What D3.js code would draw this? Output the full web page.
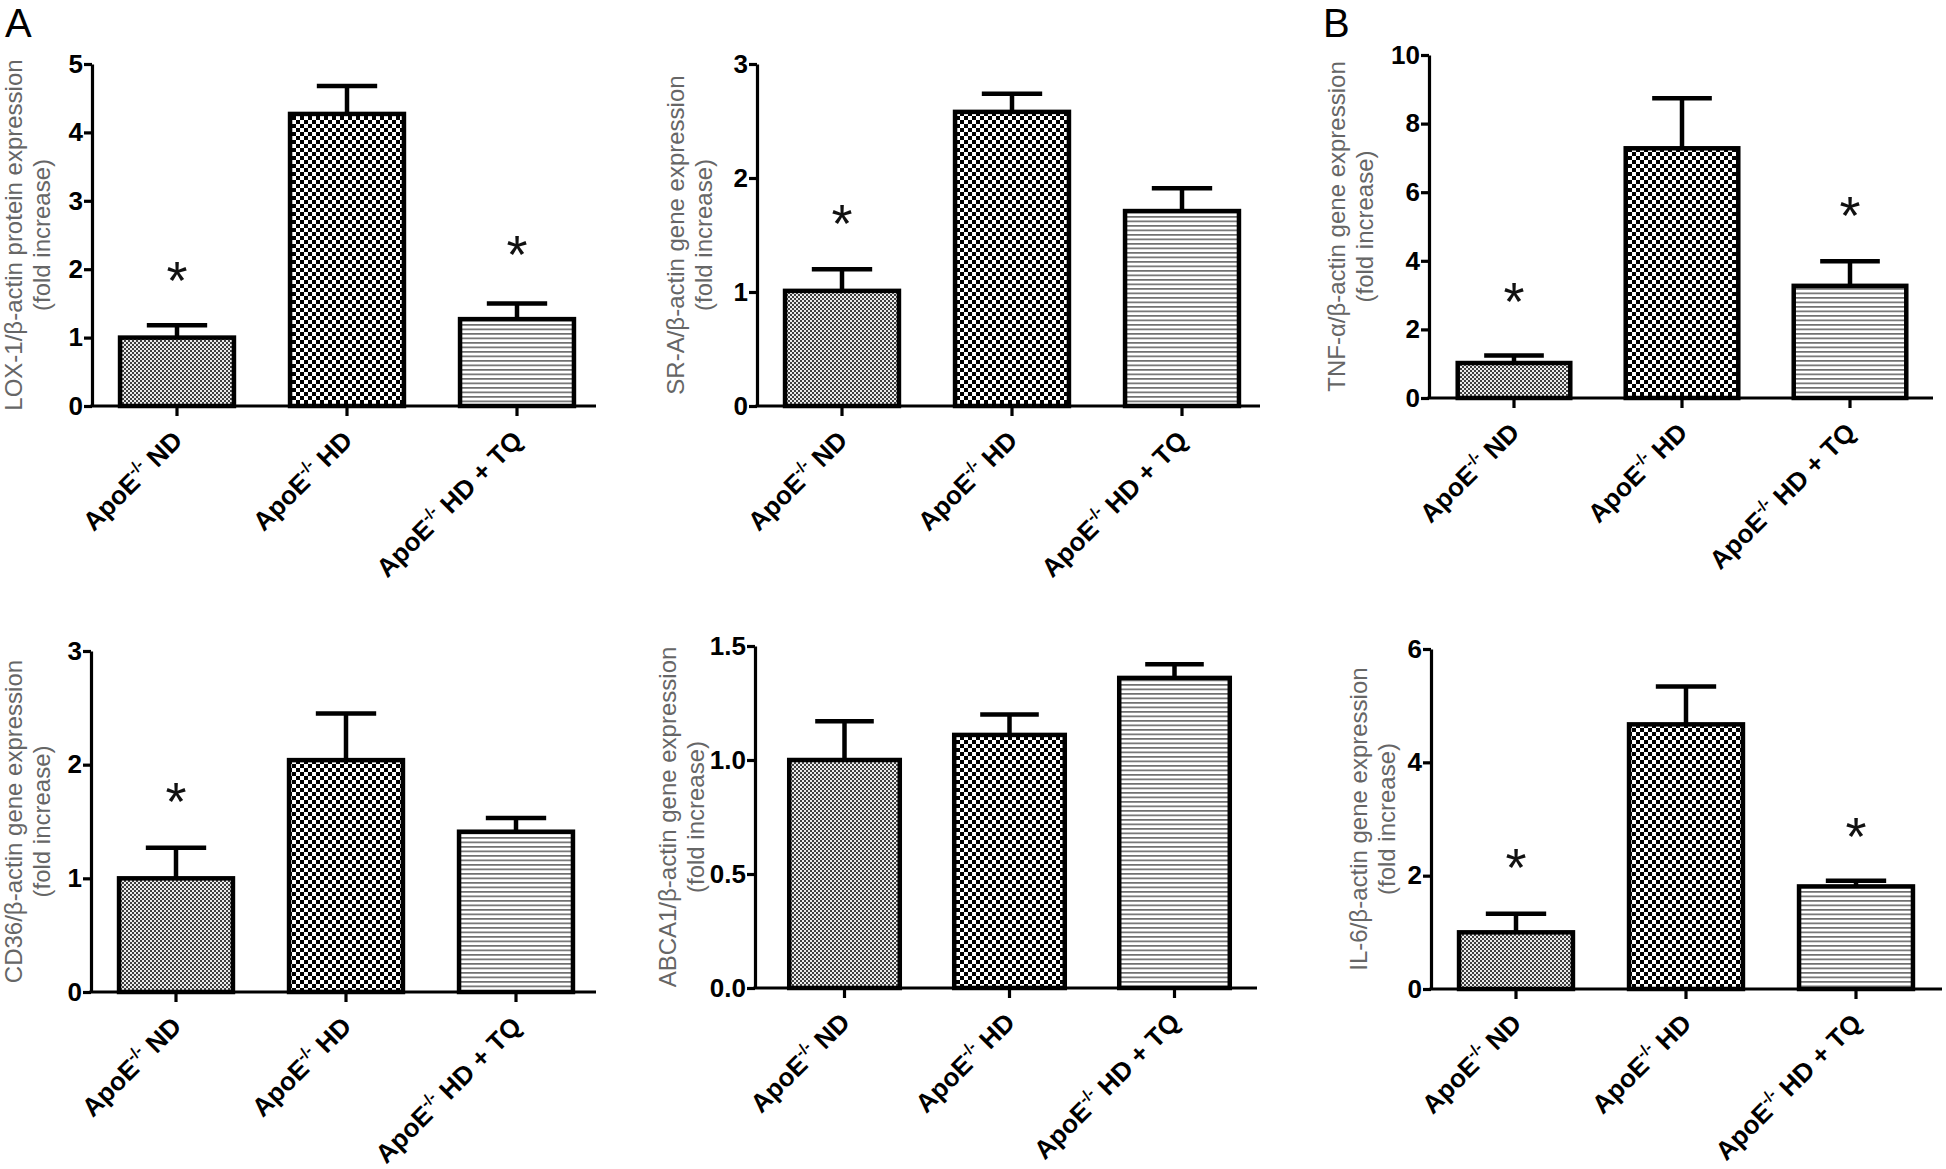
<!DOCTYPE html>
<html><head><meta charset="utf-8">
<script src="https://cdn.jsdelivr.net/npm/d3@7"></script>
<style>body{margin:0;background:#fff} svg{display:block}</style>
</head><body>
<svg id="c" width="1946" height="1169"></svg>
<script>
// ---------- data ----------
const categories = ["ND", "HD", "HD + TQ"];

const lox1Mean = [1.00, 4.27, 1.27];
const lox1Sem  = [0.18, 0.41, 0.23];
const lox1Star = [2.00, null, 2.38];

const srAMean = [1.01, 2.58, 1.71];
const srASem  = [0.19, 0.16, 0.20];
const srAStar = [1.70, null, null];

const tnfMean = [1.02, 7.28, 3.27];
const tnfSem  = [0.22, 1.46, 0.72];
const tnfStar = [3.14, null, 5.66];

const cd36Mean = [1.00, 2.04, 1.41];
const cd36Sem  = [0.27, 0.41, 0.12];
const cd36Star = [1.78, null, null];

const abca1Mean = [1.00, 1.11, 1.36];
const abca1Sem  = [0.17, 0.09, 0.06];
const abca1Star = [null, null, null];

const il6Mean = [1.00, 4.67, 1.81];
const il6Sem  = [0.33, 0.67, 0.10];
const il6Star = [2.34, null, 2.90];

const lox1Ticks = [0, 1, 2, 3, 4, 5];
const srATicks = [0, 1, 2, 3];
const tnfTicks = [0, 2, 4, 6, 8, 10];
const cd36Ticks = [0, 1, 2, 3];
const abca1Ticks = [0, 0.5, 1.0, 1.5];
const il6Ticks = [0, 2, 4, 6];

const lox1Label = ["LOX-1/β-actin protein expression", "(fold increase)"];
const srALabel = ["SR-A/β-actin gene expression", "(fold increase)"];
const tnfLabel = ["TNF-α/β-actin gene expression", "(fold increase)"];
const cd36Label = ["CD36/β-actin gene expression", "(fold increase)"];
const abca1Label = ["ABCA1/β-actin gene expression", "(fold increase)"];
const il6Label = ["IL-6/β-actin gene expression", "(fold increase)"];

// ---------- layout ----------
const FONT = "'Liberation Sans', Arial, Helvetica, sans-serif";
const panels = [
  {mean: lox1Mean, sem: lox1Sem, star: lox1Star, ticks: lox1Ticks, label: lox1Label, fmt: d3.format("d"),
   x0: 92, y0: 406, yTop: 64, max: 5, bandStart: 92, step: 170, axisEnd: 596, lab: 70},
  {mean: srAMean, sem: srASem, star: srAStar, ticks: srATicks, label: srALabel, fmt: d3.format("d"),
   x0: 757, y0: 406, yTop: 64, max: 3, bandStart: 757, step: 170, axisEnd: 1260, lab: 73},
  {mean: tnfMean, sem: tnfSem, star: tnfStar, ticks: tnfTicks, label: tnfLabel, fmt: d3.format("d"),
   x0: 1429, y0: 398, yTop: 55, max: 10, bandStart: 1430, step: 168, axisEnd: 1933, lab: 84},
  {mean: cd36Mean, sem: cd36Sem, star: cd36Star, ticks: cd36Ticks, label: cd36Label, fmt: d3.format("d"),
   x0: 91, y0: 992, yTop: 651, max: 3, bandStart: 91, step: 170, axisEnd: 596, lab: 69},
  {mean: abca1Mean, sem: abca1Sem, star: abca1Star, ticks: abca1Ticks, label: abca1Label, fmt: d3.format(".1f"),
   x0: 755, y0: 988, yTop: 646, max: 1.5, bandStart: 762, step: 165, axisEnd: 1257, lab: 79},
  {mean: il6Mean, sem: il6Sem, star: il6Star, ticks: il6Ticks, label: il6Label, fmt: d3.format("d"),
   x0: 1431, y0: 989, yTop: 649, max: 6, bandStart: 1431, step: 170, axisEnd: 1942, lab: 64}
];

const svg = d3.select("#c");
const defs = svg.append("defs");

// fine grey dither (ND)
const p1 = defs.append("pattern").attr("id", "pND").attr("patternUnits", "userSpaceOnUse")
  .attr("width", 4).attr("height", 4);
p1.append("rect").attr("width", 4).attr("height", 4).attr("fill", "#ececec");
p1.append("rect").attr("x", 0).attr("y", 0).attr("width", 2).attr("height", 2).attr("fill", "#404040");
p1.append("rect").attr("x", 2).attr("y", 2).attr("width", 2).attr("height", 2).attr("fill", "#404040");
// coarse checker (HD)
const p2 = defs.append("pattern").attr("id", "pHD").attr("patternUnits", "userSpaceOnUse")
  .attr("width", 8).attr("height", 8);
p2.append("rect").attr("width", 8).attr("height", 8).attr("fill", "#fff");
p2.append("rect").attr("x", 0).attr("y", 0).attr("width", 4).attr("height", 4).attr("fill", "#000");
p2.append("rect").attr("x", 4).attr("y", 4).attr("width", 4).attr("height", 4).attr("fill", "#000");
// horizontal lines (HD+TQ)
const p3 = defs.append("pattern").attr("id", "pTQ").attr("patternUnits", "userSpaceOnUse")
  .attr("width", 8).attr("height", 4.5);
p3.append("rect").attr("width", 8).attr("height", 4.5).attr("fill", "#fff");
p3.append("rect").attr("x", 0).attr("y", 0).attr("width", 8).attr("height", 1.7).attr("fill", "#707070");
const fills = ["url(#pND)", "url(#pHD)", "url(#pTQ)"];

panels.forEach(p => {
  const g = svg.append("g");
  const y = d3.scaleLinear().domain([0, p.max]).range([p.y0, p.yTop]);
  const x = d3.scaleBand().domain(categories)
    .range([p.bandStart, p.bandStart + 3 * p.step]).paddingInner(0.33).paddingOuter(0.165);
  const bw = x.bandwidth();
  const cx = c => x(c) + bw / 2;

  // bars
  g.selectAll("rect.bar").data(categories).join("rect")
    .attr("x", c => x(c)).attr("width", bw)
    .attr("y", (c, i) => y(p.mean[i])).attr("height", (c, i) => p.y0 - y(p.mean[i]))
    .attr("fill", (c, i) => fills[i]).attr("stroke", "#000").attr("stroke-width", 4.5);

  // error bars (upper)
  const capW = bw * 0.53;
  g.selectAll("line.err").data(categories).join("line")
    .attr("x1", cx).attr("x2", cx)
    .attr("y1", (c, i) => y(p.mean[i])).attr("y2", (c, i) => y(p.mean[i] + p.sem[i]))
    .attr("stroke", "#000").attr("stroke-width", 4.5);
  g.selectAll("line.cap").data(categories).join("line")
    .attr("x1", c => cx(c) - capW / 2).attr("x2", c => cx(c) + capW / 2)
    .attr("y1", (c, i) => y(p.mean[i] + p.sem[i])).attr("y2", (c, i) => y(p.mean[i] + p.sem[i]))
    .attr("stroke", "#000").attr("stroke-width", 4.5);

  // stars
  const starData = categories.map((c, i) => ({c, v: p.star[i]})).filter(d => d.v !== null);
  g.selectAll("text.star").data(starData).join("text")
    .attr("x", d => cx(d.c)).attr("y", d => y(d.v) + 30)
    .attr("text-anchor", "middle").attr("font-family", FONT).attr("font-size", 54)
    .attr("fill", "#111").text("*");

  // y axis
  const ya = g.append("g").attr("transform", `translate(${p.x0},0)`)
    .call(d3.axisLeft(y).tickValues(p.ticks).tickFormat(p.fmt).tickSize(8).tickSizeOuter(0).tickPadding(1));
  ya.select(".domain").attr("stroke-width", 3.2).attr("stroke", "#000");
  ya.selectAll(".tick line").attr("stroke-width", 3.2).attr("stroke", "#000");
  ya.selectAll(".tick text").attr("font-family", FONT).attr("font-size", 26)
    .attr("font-weight", "bold").attr("fill", "#000");

  // x axis
  const xa = g.append("g").attr("transform", `translate(0,${p.y0})`)
    .call(d3.axisBottom(x).tickSize(10).tickSizeOuter(0).tickFormat(""));
  xa.select(".domain").remove();
  xa.selectAll(".tick line").attr("stroke-width", 3.2).attr("stroke", "#000");
  g.append("line").attr("x1", p.x0 - 1.6).attr("x2", p.axisEnd).attr("y1", p.y0).attr("y2", p.y0)
    .attr("stroke", "#000").attr("stroke-width", 3.2);

  // category labels
  categories.forEach(c => {
    const t = g.append("text")
      .attr("transform", `translate(${cx(c) + 7},${p.y0 + 36}) rotate(-45)`)
      .attr("text-anchor", "end").attr("font-family", FONT).attr("font-size", 26)
      .attr("font-weight", "bold").attr("fill", "#000");
    t.append("tspan").text("ApoE");
    t.append("tspan").attr("font-size", 16).attr("dy", -11).text("-/-");
    t.append("tspan").attr("dy", 11).text(" " + c);
  });

  // y label
  const ym = (p.y0 + p.yTop) / 2;
  p.label.forEach((s, i) => {
    g.append("text")
      .attr("transform", `translate(${p.x0 - p.lab + i * 28},${ym}) rotate(-90)`)
      .attr("text-anchor", "middle").attr("font-family", FONT).attr("font-size", 24)
      .attr("fill", "#666").text(s);
  });
});

// panel letters
svg.append("text").attr("x", 5).attr("y", 37).attr("font-family", FONT).attr("font-size", 40).text("A");
svg.append("text").attr("x", 1323).attr("y", 37).attr("font-family", FONT).attr("font-size", 40).text("B");
</script>
</body></html>
